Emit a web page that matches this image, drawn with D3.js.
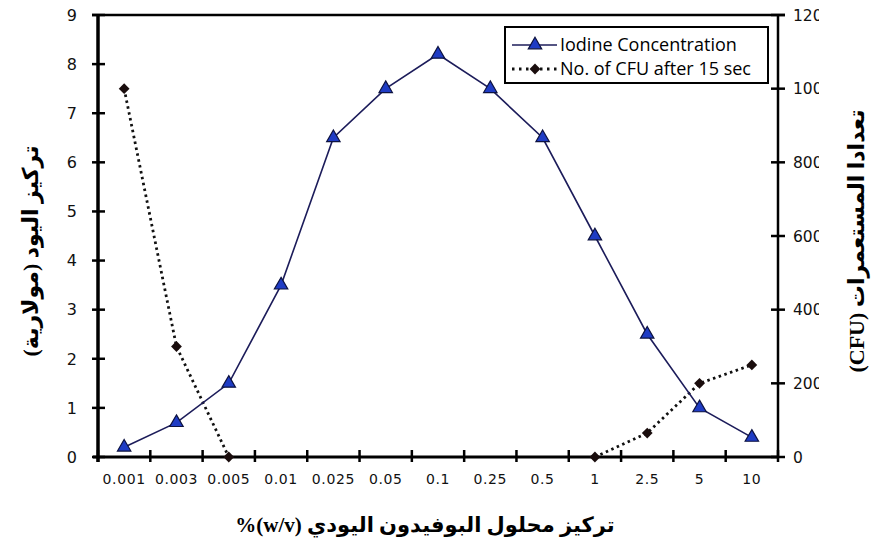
<!DOCTYPE html>
<html>
<head>
<meta charset="utf-8">
<script src="https://d3js.org/d3.v7.min.js"></script>
<style>
  body { margin: 0; background: #fff; }
</style>
</head>
<body>
<div id="chart"></div>
<script>
  // data
  var categories = ["0.001", "0.003", "0.005", "0.01", "0.025", "0.05", "0.1", "0.25", "0.5", "1", "2.5", "5", "10"];
  var iodine = [0.2, 0.7, 1.5, 3.5, 6.5, 7.5, 8.2, 7.5, 6.5, 4.5, 2.5, 1.0, 0.4];
  var cfu = [1000, 300, 0, null, null, null, null, null, null, 0, 65, 200, 250];
  var leftTicks = [0, 1, 2, 3, 4, 5, 6, 7, 8, 9];
  var rightTicks = [0, 200, 400, 600, 800, 1000, 1200];
  var legendLabels = ["Iodine Concentration", "No. of CFU after 15 sec"];
  var xTitle = "تركيز محلول البوفيدون اليودي (w/v)%";
  var yLeftTitle = "تركيز اليود (مولارية)";
  var yRightTitle = "تعدادا المستعمرات (CFU)";

  var margin = {top: 15, right: 94, bottom: 93, left: 98},
      width = 872 - margin.left - margin.right,
      height = 550 - margin.top - margin.bottom;

  var lineColor = "#1c1c5a", triFill = "#1f3cc4";

  var root = d3.select("#chart").append("svg")
      .attr("width", 872).attr("height", 550)
      .style("background", "#fff");

  var svg = root.append("g")
      .attr("transform", "translate(" + margin.left + "," + margin.top + ")");

  var x = d3.scaleBand().domain(categories).range([0, width]);
  var yL = d3.scaleLinear().domain([0, 9]).range([height, 0]);
  var yR = d3.scaleLinear().domain([0, 1200]).range([height, 0]);

  // frame: top line
  svg.append("line").attr("x1", -6).attr("x2", width + 7).attr("y1", 0).attr("y2", 0)
      .attr("stroke", "#000").attr("stroke-width", 2.5);

  // x axis: labels at band centres, ticks on band boundaries
  var xAxis = svg.append("g").attr("transform", "translate(0," + height + ")");
  xAxis.append("line").attr("x1", -5).attr("x2", width).attr("stroke", "#000").attr("stroke-width", 3);
  var bounds = categories.map(function(c) { return x(c); }).concat([width]);
  xAxis.selectAll(".xt").data(bounds).enter().append("line")
      .attr("x1", d => d).attr("x2", d => d).attr("y1", -7).attr("y2", 5)
      .attr("stroke", "#000").attr("stroke-width", 2.5);
  xAxis.selectAll(".xl").data(categories).enter().append("text")
      .attr("x", d => x(d) + x.bandwidth() / 2).attr("y", 27)
      .attr("text-anchor", "middle")
      .style("font-family", "DejaVu Sans").style("font-size", "14px")
      .style("letter-spacing", "0.6px").attr("fill", "#111")
      .text(d => d);

  // left axis
  var yAxisL = svg.append("g");
  yAxisL.append("line").attr("y1", 0).attr("y2", height + 5).attr("stroke", "#000").attr("stroke-width", 3.5);
  yAxisL.selectAll(".lt").data(leftTicks).enter().append("line")
      .attr("x1", -6).attr("x2", 7).attr("y1", d => yL(d)).attr("y2", d => yL(d))
      .attr("stroke", "#000").attr("stroke-width", 2.5);
  yAxisL.selectAll(".ll").data(leftTicks).enter().append("text")
      .attr("x", -21).attr("y", d => yL(d)).attr("dy", "0.36em")
      .attr("text-anchor", "end")
      .style("font-family", "DejaVu Sans").style("font-size", "16px").attr("fill", "#111")
      .text(d => d);

  // right axis, labels cut off at the picture's edge as in the source
  root.append("clipPath").attr("id", "rclip")
      .append("rect").attr("x", width).attr("y", -20).attr("width", 41).attr("height", height + 40);
  var yAxisR = svg.append("g");
  yAxisR.append("line").attr("x1", width).attr("x2", width).attr("y1", 0).attr("y2", height)
      .attr("stroke", "#000").attr("stroke-width", 2.5);
  yAxisR.selectAll(".rt").data(rightTicks).enter().append("line")
      .attr("x1", width - 7).attr("x2", width + 7).attr("y1", d => yR(d)).attr("y2", d => yR(d))
      .attr("stroke", "#000").attr("stroke-width", 2.5);
  yAxisR.append("g").attr("clip-path", "url(#rclip)")
      .selectAll(".rl").data(rightTicks).enter().append("text")
      .attr("x", width + 15).attr("y", d => yR(d)).attr("dy", "0.36em")
      .style("font-family", "DejaVu Sans").style("font-size", "15.5px").attr("fill", "#111")
      .text(d => d);

  var cx = function(i) { return x(categories[i]) + x.bandwidth() / 2; };

  // CFU dotted line (gap where there is no count)
  var cfuLine = d3.line()
      .defined(d => d !== null)
      .x((d, i) => cx(i))
      .y(d => yR(d));
  svg.append("path").datum(cfu)
      .attr("fill", "none").attr("stroke", "#111").attr("stroke-width", 2.8)
      .attr("stroke-dasharray", "2.5,3.5")
      .attr("d", cfuLine);

  // iodine solid line
  var iodLine = d3.line().x((d, i) => cx(i)).y(d => yL(d));
  svg.append("path").datum(iodine)
      .attr("fill", "none").attr("stroke", lineColor).attr("stroke-width", 1.6)
      .attr("d", iodLine);

  var tri = d3.symbol().type(d3.symbolTriangle).size(78);
  var dia = d3.symbol().type(d3.symbolSquare).size(58);

  svg.selectAll(".tri").data(iodine).enter().append("path")
      .attr("d", tri)
      .attr("transform", (d, i) => "translate(" + cx(i) + "," + yL(d) + ")")
      .attr("fill", triFill).attr("stroke", "#0d1240").attr("stroke-width", 1.2);

  svg.selectAll(".dia").data(cfu.map((d, i) => ({v: d, i: i})).filter(d => d.v !== null))
      .enter().append("path")
      .attr("d", dia)
      .attr("transform", d => "translate(" + cx(d.i) + "," + yR(d.v) + ") rotate(45)")
      .attr("fill", "#1a0d0d");

  // legend
  var lg = root.append("g").attr("transform", "translate(505,27)");
  lg.append("rect").attr("width", 263).attr("height", 56)
      .attr("fill", "#fff").attr("stroke", "#000").attr("stroke-width", 2);
  lg.append("line").attr("x1", 7).attr("x2", 52).attr("y1", 18).attr("y2", 18)
      .attr("stroke", lineColor).attr("stroke-width", 1.6);
  lg.append("path").attr("d", tri).attr("transform", "translate(30,18)")
      .attr("fill", triFill).attr("stroke", "#0d1240").attr("stroke-width", 1.2);
  lg.append("line").attr("x1", 7).attr("x2", 52).attr("y1", 42).attr("y2", 42)
      .attr("stroke", "#111").attr("stroke-width", 2.8).attr("stroke-dasharray", "2.5,4.5");
  lg.append("path").attr("d", dia).attr("transform", "translate(30,42) rotate(45)")
      .attr("fill", "#1a0d0d");
  lg.selectAll(".lt").data(legendLabels).enter().append("text")
      .attr("x", 55).attr("y", (d, i) => 24 + i * 24)
      .style("font-family", "Open Sans").style("font-size", "18px").attr("fill", "#000")
      .text(d => d);

  // axis titles
  var titleFont = "'Liberation Serif', 'DejaVu Sans', serif";
  root.append("text")
      .attr("x", 425).attr("y", 532)
      .attr("text-anchor", "middle").attr("direction", "rtl")
      .style("font-family", titleFont).style("font-weight", "bold").style("font-size", "21px")
      .text(xTitle);
  root.append("text")
      .attr("transform", "translate(38,251) rotate(-90)")
      .attr("text-anchor", "middle").attr("direction", "rtl")
      .style("font-family", titleFont).style("font-weight", "bold").style("font-size", "22px")
      .text(yLeftTitle);
  root.append("text")
      .attr("transform", "translate(864,241) rotate(-90)")
      .attr("text-anchor", "middle").attr("direction", "rtl")
      .style("font-family", titleFont).style("font-weight", "bold").style("font-size", "22px")
      .text(yRightTitle);
</script>
</body>
</html>
